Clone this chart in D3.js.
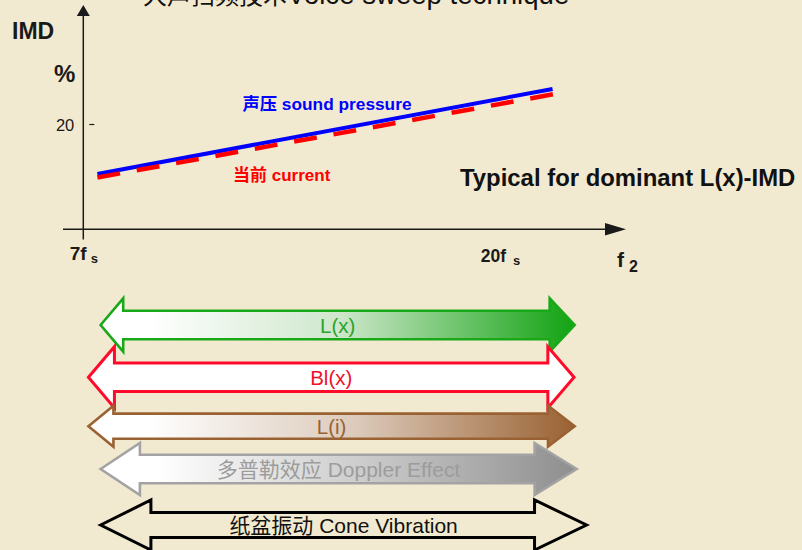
<!DOCTYPE html>
<html>
<head>
<meta charset="utf-8">
<script src="https://cdn.jsdelivr.net/npm/d3@7"></script>
<style>
  html, body { margin: 0; padding: 0; background: #f2ead0; }
  svg { display: block; }
  text { font-family: "Liberation Sans", Arial, "Noto Sans CJK SC", sans-serif; }
</style>
</head>
<body>
<svg id="chart" width="802" height="550"></svg>
<script>
// ---- data ----
const xTicks = [7, 20];
const xTickLabels = ["7f", "20f"];
const yTicks = [20];

// IMD (%) against f2 (in multiples of fs)
const soundPressureF2 = [7.44, 21.64];
const soundPressureIMD = [10.5, 26.65];
const currentF2 = [7.44, 21.70];
const currentIMD = [9.84, 25.7];

// frequency ranges over which each mechanism acts
const effectNames = ["L(x)", "Bl(x)", "L(i)", "多普勒效应 Doppler Effect", "纸盆振动 Cone Vibration"];
const effectStart = [7.54, 7.16, 7.16, 7.54, 7.54];
const effectEnd = [22.33, 22.31, 22.33, 22.39, 22.70];

// ---- layout ----
const svg = d3.select("#chart");

const x = d3.scaleLinear().domain([7, 20]).range([83.3, 500]);
const y = d3.scaleLinear().domain([0, 20]).range([229.3, 124]);

const ink = "#1a1a1a";

// gradients for the shaded arrows
const defs = svg.append("defs");
function grad(id, stops) {
  const g = defs.append("linearGradient").attr("id", id)
    .attr("x1", "0%").attr("x2", "100%").attr("y1", "0%").attr("y2", "0%");
  stops.forEach(s => g.append("stop").attr("offset", s[0]).attr("stop-color", s[1]));
}
grad("gGreen", [["0%", "#ffffff"], ["10%", "#ffffff"], ["50%", "#cfe7cc"], ["100%", "#12a312"]]);
grad("gBrown", [["0%", "#ffffff"], ["12%", "#ffffff"], ["55%", "#dccabb"], ["100%", "#9a6232"]]);
grad("gGray", [["0%", "#ffffff"], ["12%", "#ffffff"], ["55%", "#cccccc"], ["100%", "#8e8e8e"]]);

// title (runs off the top edge)
const title = svg.append("text").attr("x", 143).attr("y", 3.5).attr("fill", "#111");
title.append("tspan").attr("font-size", 24).attr("font-family", "Noto Sans CJK SC").text("大声扫频技术");
title.append("tspan").attr("font-size", 27.6).text("Voice sweep technique");

// axes lines with arrowheads
const yAxisX = x(7);
const xAxisY = y(0);
svg.append("line").attr("x1", yAxisX).attr("x2", yAxisX).attr("y1", 14).attr("y2", 239.5)
  .attr("stroke", ink).attr("stroke-width", 1.5);
svg.append("path").attr("d", `M${yAxisX},5 L${yAxisX - 6.5},16 L${yAxisX + 6.5},16 Z`).attr("fill", ink);
svg.append("line").attr("x1", 63).attr("x2", 607).attr("y1", xAxisY).attr("y2", xAxisY)
  .attr("stroke", ink).attr("stroke-width", 1.5);
svg.append("path").attr("d", `M626,${xAxisY} L605,${xAxisY - 6.3} L605,${xAxisY + 6.3} Z`).attr("fill", ink);

// y ticks
const yAxis = d3.axisLeft(y).tickValues(yTicks).tickSize(0).tickPadding(9).tickFormat(d3.format("d"));
const gy = svg.append("g").attr("transform", `translate(${yAxisX},0)`).call(yAxis);
gy.select(".domain").remove();
gy.selectAll(".tick text").attr("font-size", 16.5).attr("fill", ink)
  .attr("font-family", "Liberation Sans, Arial").attr("dy", "0.38em");
gy.selectAll(".tick").append("line").attr("x1", 6).attr("x2", 11)
  .attr("stroke", ink).attr("stroke-width", 1.2);

// x ticks
const xAxis = d3.axisBottom(x).tickValues(xTicks).tickSize(0).tickFormat(() => "");
const gx = svg.append("g").attr("transform", `translate(0,${xAxisY})`).call(xAxis);
gx.select(".domain").remove();
gx.selectAll(".tick text").remove();
gx.selectAll(".tick").each(function (d, i) {
  const t = d3.select(this).append("text").attr("text-anchor", "middle")
    .attr("y", i === 0 ? 31 : 32.4).attr("font-weight", "bold").attr("fill", ink);
  t.append("tspan").attr("font-size", i === 0 ? 19 : 17.5).text(xTickLabels[i]);
  t.append("tspan").attr("font-size", 13).attr("dx", i === 0 ? 4 : 7).attr("dy", 3).text("s");
});

// axis titles
svg.append("text").attr("x", 12).attr("y", 39).attr("font-size", 23).attr("font-weight", "bold")
  .attr("fill", ink).text("IMD");
svg.append("text").attr("x", 54).attr("y", 81.5).attr("font-size", 24).attr("font-weight", "bold")
  .attr("fill", ink).text("%");
const f2 = svg.append("text").attr("x", 617).attr("y", 266.7).attr("font-weight", "bold").attr("fill", ink);
f2.append("tspan").attr("font-size", 21).text("f");
f2.append("tspan").attr("font-size", 16).attr("dx", 5).attr("dy", 5).text("2");

svg.append("text").attr("x", 460).attr("y", 185.7).attr("font-size", 23.9).attr("font-weight", "bold")
  .attr("fill", "#111").text("Typical for dominant L(x)-IMD");

// IMD curves
const line = d3.line().x(d => x(d[0])).y(d => y(d[1]));
svg.append("path")
  .datum(soundPressureF2.map((f, i) => [f, soundPressureIMD[i]]))
  .attr("d", line).attr("fill", "none").attr("stroke", "#0000ff").attr("stroke-width", 4);
svg.append("path")
  .datum(currentF2.map((f, i) => [f, currentIMD[i]]))
  .attr("d", line).attr("fill", "none").attr("stroke", "#ff0000").attr("stroke-width", 4.5)
  .attr("stroke-dasharray", "23,17");

svg.append("text").attr("x", 242.5).attr("y", 110).attr("font-size", 17.3).attr("font-weight", "bold")
  .attr("fill", "#0000ff").text("声压 sound pressure");
svg.append("text").attr("x", 233).attr("y", 180.7).attr("font-size", 17).attr("font-weight", "bold")
  .attr("fill", "#ff0000").text("当前 current");

// double-headed range arrows
const arrowStyle = [
  { cy: 325,   hh: 26.7, sh: 14.2, hl: 22.6, hr: 25,   fill: "url(#gGreen)", stroke: "#18a818", sw: 2.6, text: "#2aa52a", fs: 20.5 },
  { cy: 377.3, hh: 30.6, sh: 14.2, hl: 26,   hr: 26.2, fill: "#ffffff",      stroke: "#ff0a2a", sw: 3,   text: "#f0102a", fs: 20.5 },
  { cy: 426.2, hh: 20.5, sh: 12.6, hl: 25,   hr: 26.7, fill: "url(#gBrown)", stroke: "#9a6232", sw: 2.6, text: "#9a6232", fs: 20.5 },
  { cy: 469,   hh: 26,   sh: 14.2, hl: 39.3, hr: 42,   fill: "url(#gGray)",  stroke: "#a3a3a3", sw: 2.6, text: "#9c9c9c", fs: 21 },
  { cy: 525,   hh: 25,   sh: 12.6, hl: 50.3, hr: 52,   fill: "none",         stroke: "#000000", sw: 3,   text: "#111111", fs: 21 }
];

function arrowPath(x0, x1, s) {
  const c = s.cy;
  const pts = [
    [x0, c], [x0 + s.hl, c - s.hh], [x0 + s.hl, c - s.sh], [x1 - s.hr, c - s.sh],
    [x1 - s.hr, c - s.hh], [x1, c], [x1 - s.hr, c + s.hh], [x1 - s.hr, c + s.sh],
    [x0 + s.hl, c + s.sh], [x0 + s.hl, c + s.hh]
  ];
  return "M" + pts.map(p => p.join(",")).join("L") + "Z";
}

const arrows = svg.append("g").selectAll("g").data(effectNames).join("g");
arrows.append("path")
  .attr("d", (d, i) => arrowPath(x(effectStart[i]), x(effectEnd[i]), arrowStyle[i]))
  .attr("fill", (d, i) => arrowStyle[i].fill)
  .attr("stroke", (d, i) => arrowStyle[i].stroke)
  .attr("stroke-width", (d, i) => arrowStyle[i].sw)
  .attr("stroke-linejoin", "miter");
arrows.append("text")
  .attr("x", (d, i) => (x(effectStart[i]) + x(effectEnd[i])) / 2)
  .attr("y", (d, i) => arrowStyle[i].cy + 8)
  .attr("text-anchor", "middle")
  .attr("font-size", (d, i) => arrowStyle[i].fs)
  .attr("fill", (d, i) => arrowStyle[i].text)
  .text(d => d);
</script>
</body>
</html>
